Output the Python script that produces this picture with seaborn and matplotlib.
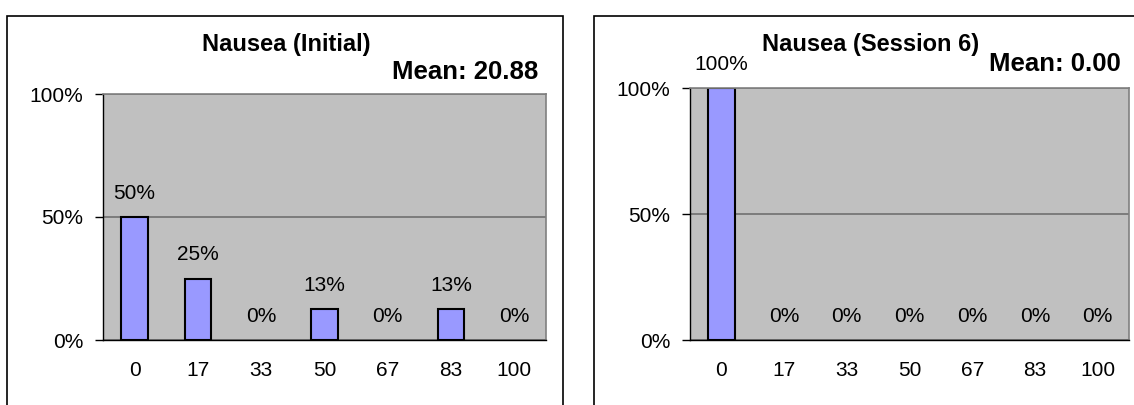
import math
import matplotlib
matplotlib.use("Agg")
import matplotlib.pyplot as plt
from matplotlib.patches import Rectangle
import pandas as pd
import seaborn as sns

# %% data
scores = ["0", "17", "33", "50", "67", "83", "100"]
initial_pct = [50, 25, 0, 12.5, 0, 12.5, 0]
session6_pct = [100, 0, 0, 0, 0, 0, 0]
titles = ["Nausea (Initial)", "Nausea (Session 6)"]
means = ["Mean: 20.88", "Mean: 0.00"]

# %% style
sns.set_style("white")
plt.rcParams["font.family"] = ["Liberation Sans", "DejaVu Sans"]
plt.rcParams["text.color"] = "black"
plt.rcParams["xtick.color"] = "black"
plt.rcParams["ytick.color"] = "black"
plt.rcParams["xtick.labelcolor"] = "black"
plt.rcParams["ytick.labelcolor"] = "black"

W, H = 1134, 405
fig = plt.figure(figsize=(W / 100, H / 100), dpi=100)


def px_axes(x0, y0, x1, y1):
    return fig.add_axes([x0 / W, 1 - y1 / H, (x1 - x0) / W, (y1 - y0) / H])


def draw(ax, values):
    df = pd.DataFrame({"score": scores, "pct": values})
    sns.barplot(data=df, x="score", y="pct", order=scores, color="#9999FF",
                edgecolor="black", linewidth=1.5, width=0.42, saturation=1, ax=ax)
    # empty categories: no outline at the baseline
    for p in ax.patches:
        if p.get_height() == 0:
            p.set_visible(False)
    ax.set_facecolor("#C0C0C0")
    ax.set_xlim(-0.5, len(scores) - 0.5)
    ax.set_ylim(0, 100)
    ax.set_yticks([0, 50, 100])
    ax.set_yticklabels(["0%", "50%", "100%"])
    ax.set_xticks(range(len(scores)))
    ax.set_xticklabels(scores)
    ax.set_xticks([i - 0.5 for i in range(len(scores) + 1)], minor=True)
    ax.tick_params(axis="x", which="major", length=0, pad=15, labelsize=15)
    ax.tick_params(axis="x", which="minor", length=5, width=1, color="black", direction="out")
    ax.tick_params(axis="y", length=6, width=1, color="black", pad=8, labelsize=15, left=True)
    ax.set_xlabel("")
    ax.set_ylabel("")
    ax.yaxis.grid(True, color="#707070", linewidth=1.2)
    ax.set_axisbelow(True)
    for s in ["left", "bottom"]:
        ax.spines[s].set_color("black")
        ax.spines[s].set_linewidth(1)
    for s in ["top", "right"]:
        ax.spines[s].set_color("#808080")
        ax.spines[s].set_linewidth(1.2)
    for i, v in enumerate(values):
        ax.annotate(f"{math.floor(v + 0.5)}%", (i, v), xytext=(0, 17),
                    textcoords="offset points", ha="center", va="center",
                    fontsize=15, color="black", annotation_clip=False)


ax1 = px_axes(103, 94, 546, 340)
draw(ax1, initial_pct)
ax2 = px_axes(690, 88, 1129, 340)
draw(ax2, session6_pct)

# panel borders
fig.add_artist(Rectangle((7 / W, -0.1), (563 - 7) / W, 1.1 - 15.7 / H,
                         transform=fig.transFigure, fill=False, ec="black", lw=1.2))
fig.add_artist(Rectangle((594 / W, -0.1), 0.6, 1.1 - 15.7 / H,
                         transform=fig.transFigure, fill=False, ec="black", lw=1.2))

fig.text(286 / W, 1 - 45 / H, titles[0], ha="center", va="center",
         fontsize=17, fontweight="bold", color="black")
fig.text(538 / W, 1 - 72 / H, means[0], ha="right", va="center",
         fontsize=18.5, fontweight="bold", color="black")
fig.text(871 / W, 1 - 45 / H, titles[1], ha="center", va="center",
         fontsize=17, fontweight="bold", color="black")
fig.text(1121 / W, 1 - 64 / H, means[1], ha="right", va="center",
         fontsize=18.5, fontweight="bold", color="black")

fig.savefig("out.png", dpi=100, facecolor="white")
